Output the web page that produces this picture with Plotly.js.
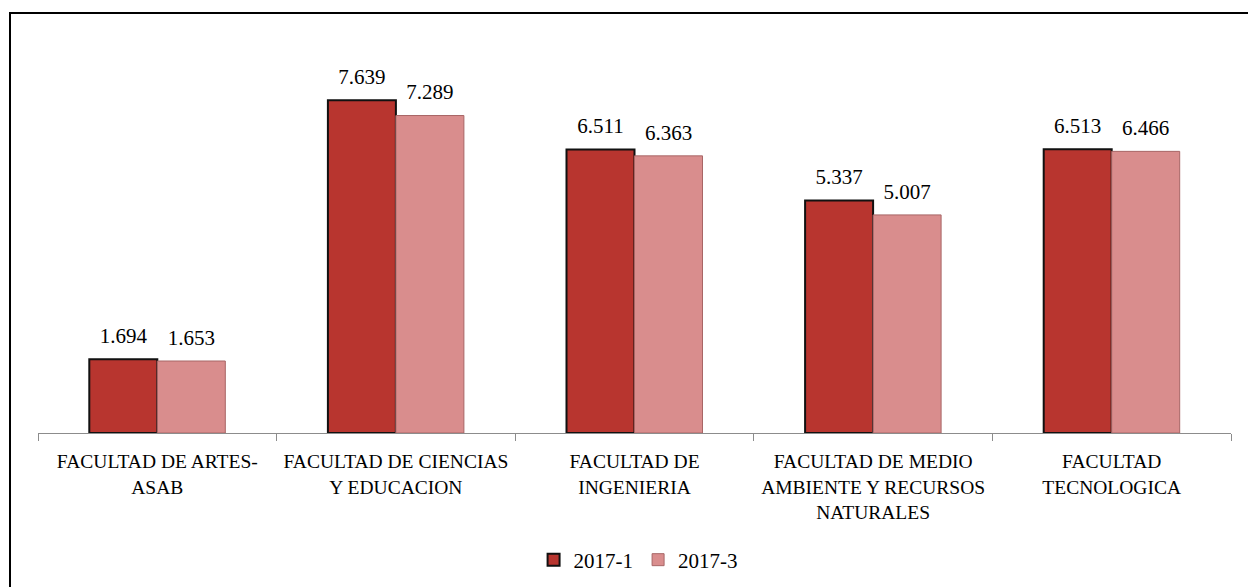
<!DOCTYPE html>
<html><head><meta charset="utf-8">
<script src="https://cdn.plot.ly/plotly-3.0.1.min.js"></script>
<style>
html,body{margin:0;padding:0;background:#fff;}
#wrap{position:relative;width:1248px;height:587px;overflow:hidden;}
#chart{position:absolute;left:0;top:0;width:1248px;height:587px;}
#frame{position:absolute;left:9px;top:12px;width:1300px;height:700px;border-left:2px solid #000;border-top:2px solid #000;pointer-events:none;}
</style></head>
<body><div id="wrap"><div id="chart"></div><div id="frame"></div></div>
<script>
const categories = [
  "FACULTAD DE ARTES-<br>ASAB",
  "FACULTAD DE CIENCIAS<br>Y EDUCACION",
  "FACULTAD DE<br>INGENIERIA",
  "FACULTAD DE MEDIO<br>AMBIENTE Y RECURSOS<br>NATURALES",
  "FACULTAD<br>TECNOLOGICA"
];
const series1Name = "2017-1";
const series1 = [1694, 7639, 6511, 5337, 6513];
const series2Name = "2017-3";
const series2 = [1653, 7289, 6363, 5007, 6466];

const FONT = "Liberation Serif, DejaVu Serif, serif";
const labelTrace = (vals, grp) => ({
  type:"scatter", mode:"markers+text", x:categories, y:vals, offsetgroup:grp,
  text: vals.map(v => (v/1000).toFixed(3)), textposition:"top center",
  marker:{size:16, opacity:0}, showlegend:false, hoverinfo:"skip", cliponaxis:false,
  textfont:{family:FONT, size:21, color:"#000"}
});
const traces = [
  {type:"bar", name:series1Name, x:categories, y:series1, offsetgroup:"a",
   marker:{color:"#B8352F", line:{color:"#111", width:2}}},
  {type:"bar", name:series2Name, x:categories, y:series2, offsetgroup:"b",
   marker:{color:"#D98D8D", line:{color:"#A86666", width:1}}},
  labelTrace(series1, "a"),
  labelTrace(series2, "b")
];
const layout = {
  width:1248, height:587,
  margin:{l:38, r:17, t:41, b:154, pad:0, autoexpand:false},
  paper_bgcolor:"#fff", plot_bgcolor:"#fff",
  barmode:"group", bargap:0.43, bargroupgap:0,
  scattermode:"group", scattergap:0.43,
  font:{family:FONT, size:19.5, color:"#000"},
  showlegend:true,
  legend:{orientation:"h", x:0.503, xanchor:"center", y:-0.324, yanchor:"middle",
          font:{family:FONT, size:21, color:"#000"}, itemwidth:30, traceorder:"normal"},
  xaxis:{type:"category", showline:true, linecolor:"#8C8C8C", linewidth:1,
         ticks:"outside", tickson:"boundaries", ticklen:7, tickcolor:"#8C8C8C",
         ticklabelstandoff:11,
         showgrid:false, tickfont:{family:FONT, size:19.5, color:"#000"}, tickangle:0,
         automargin:false},
  yaxis:{range:[0,9000], visible:false, showgrid:false, zeroline:false, fixedrange:true}
};
Plotly.newPlot("chart", traces, layout, {displayModeBar:false, staticPlot:true});
</script></body></html>
